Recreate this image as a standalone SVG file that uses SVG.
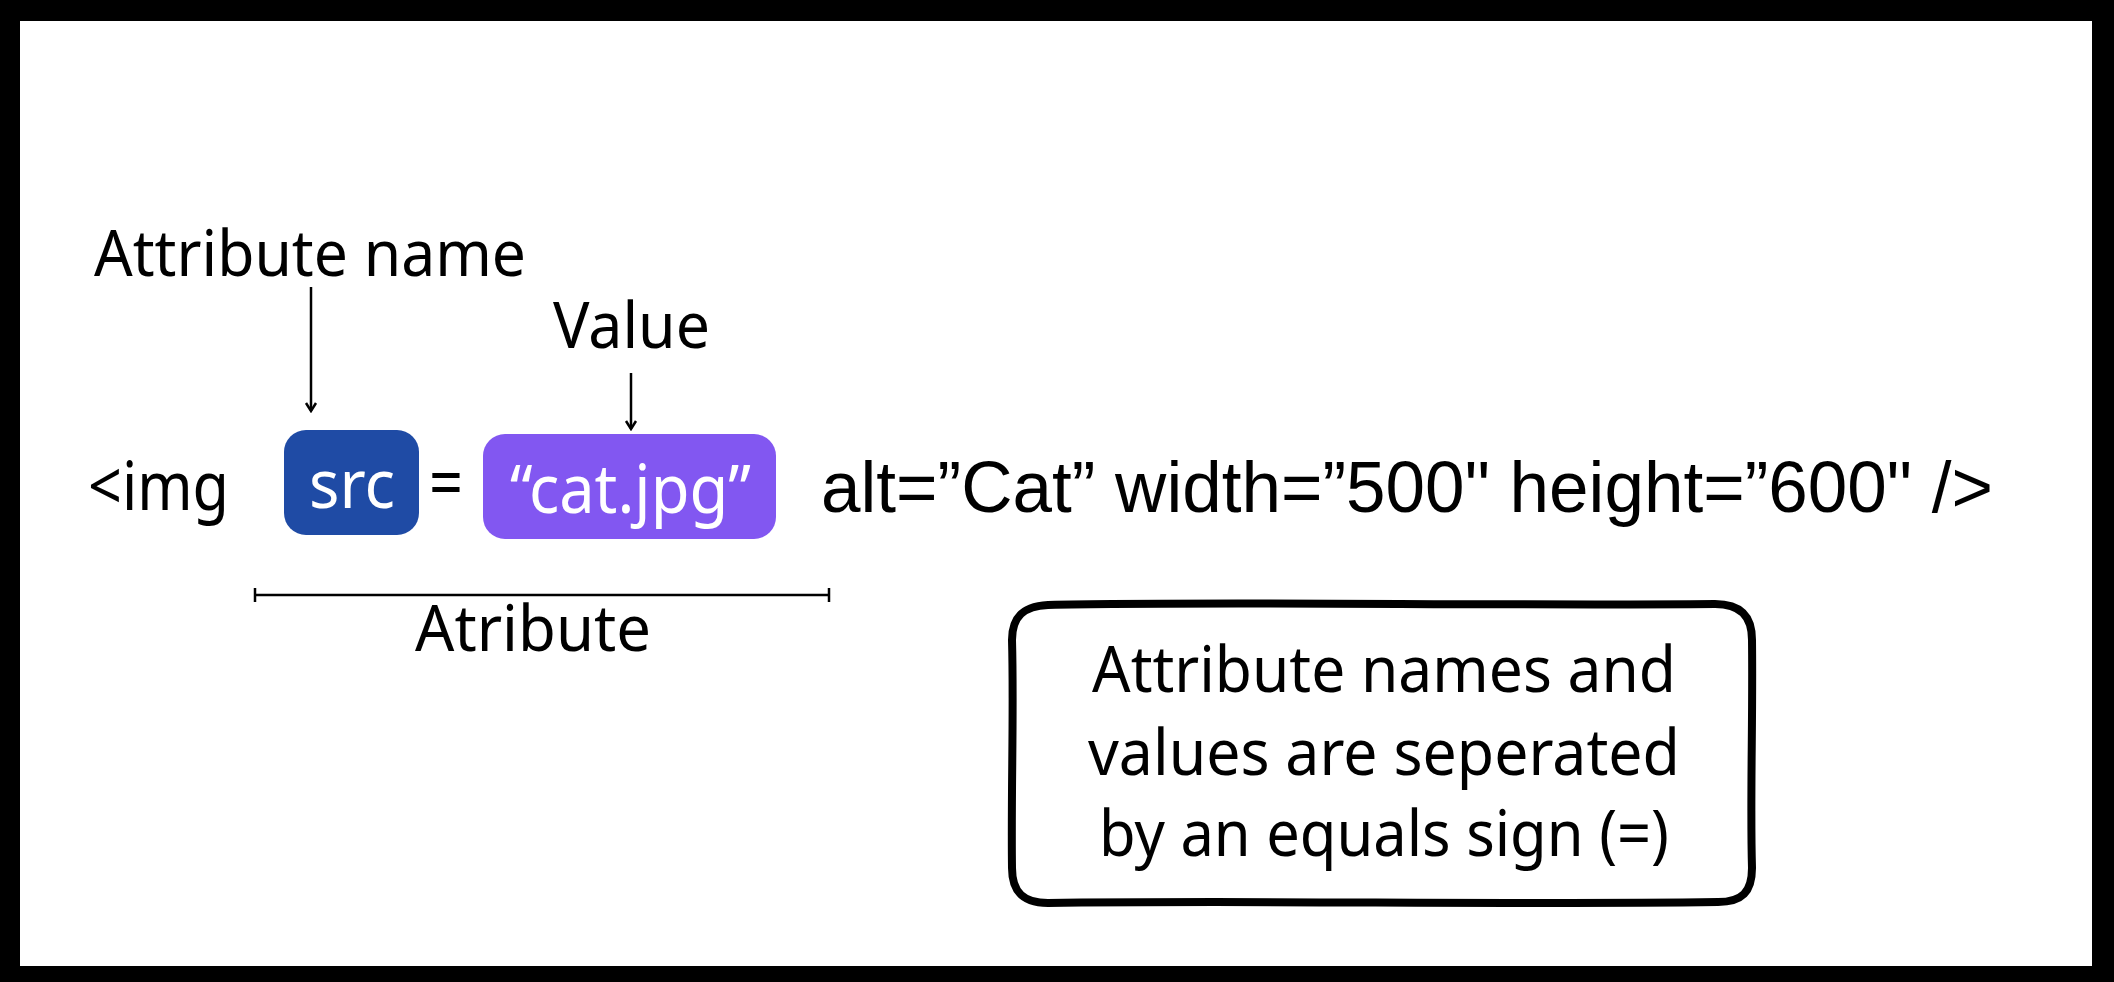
<svg xmlns="http://www.w3.org/2000/svg" width="2114" height="982" viewBox="0 0 2114 982">
<style>
.t{font-family:"Noto Sans","Open Sans",sans-serif;fill:#000;font-size:64px}
.w{fill:#fff}
.a{font-family:"Liberation Sans",Arial,sans-serif;fill:#000;font-size:72px}
.ln{stroke:#000;stroke-width:2.5;fill:none}
</style>
<defs>
<marker id="ah" markerWidth="16" markerHeight="16" refX="8" refY="14" orient="0" markerUnits="userSpaceOnUse">
<polyline points="3,6 8,14 13,6" fill="none" stroke="#000" stroke-width="2.5"/>
</marker>
</defs>
<rect x="0" y="0" width="2114" height="982" fill="#000"/>
<rect x="20" y="21" width="2072" height="945" fill="#fff"/>
<g id="label-attrname"><text class="t" x="94" y="276" textLength="432" lengthAdjust="spacingAndGlyphs">Attribute name</text></g>
<g id="label-value"><text class="t" x="553" y="348" textLength="157" lengthAdjust="spacingAndGlyphs">Value</text></g>
<g id="img"><text class="t" x="88" y="510" textLength="141" lengthAdjust="spacingAndGlyphs" style="font-size:68px">&lt;img</text></g>
<g id="src"><rect x="284" y="430" width="135" height="105" rx="22" fill="#1F4BA5"/><text class="t w" x="309" y="508" textLength="86" lengthAdjust="spacingAndGlyphs" style="font-size:68px">src</text></g>
<g id="eq"><text class="t" x="429" y="508" textLength="34" lengthAdjust="spacingAndGlyphs" style="font-size:72px">=</text></g>
<g id="value"><rect x="483" y="434" width="293" height="105" rx="22" fill="#8257F1"/><text class="t w" x="510" y="513" textLength="241" lengthAdjust="spacingAndGlyphs" style="font-size:68px">“cat.jpg”</text></g>
<g id="rest"><text class="a" x="821" y="512" textLength="1172" lengthAdjust="spacingAndGlyphs">alt=”Cat” width=”500" height=”600" /&gt;</text></g>
<g id="label-atribute"><text class="t" x="415" y="651" textLength="236" lengthAdjust="spacingAndGlyphs">Atribute</text></g>
<g id="note">
<path d="M1048,605 C1200,601 1500,606 1715,604 C1740,604 1752,616 1752,640 C1753,720 1750,800 1752,868 C1752,892 1742,902 1718,902 C1500,905 1250,900 1048,903 C1024,903 1012,893 1012,868 C1011,790 1014,710 1012,640 C1012,616 1024,606 1048,605 Z" fill="#fff" stroke="#000" stroke-width="8"/>
<text class="t" x="1092" y="692" textLength="584" lengthAdjust="spacingAndGlyphs">Attribute names and</text>
<text class="t" x="1088" y="775" textLength="592" lengthAdjust="spacingAndGlyphs">values are seperated</text>
<text class="t" x="1099" y="856" textLength="570" lengthAdjust="spacingAndGlyphs">by an equals sign (=)</text>
</g>
<g id="connectors">
<line class="ln" x1="311" y1="287" x2="311" y2="411" marker-end="url(#ah)"/>
<line class="ln" x1="631" y1="373" x2="631" y2="429" marker-end="url(#ah)"/>
<line class="ln" x1="255" y1="595" x2="829" y2="595"/>
<line class="ln" x1="255" y1="588" x2="255" y2="602"/>
<line class="ln" x1="829" y1="588" x2="829" y2="602"/>
</g>
</svg>
